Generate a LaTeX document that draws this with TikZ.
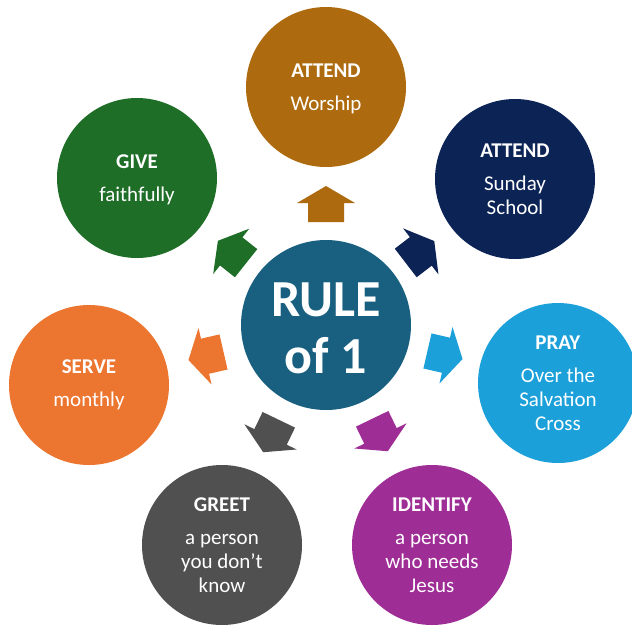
\documentclass[tikz,border=0pt]{standalone}
\usepackage{fontspec}
\setmainfont{Carlito}
\definecolor{cworship}{RGB}{174,106,14}
\definecolor{csunday}{RGB}{12,35,86}
\definecolor{cpray}{RGB}{28,160,218}
\definecolor{cidentify}{RGB}{158,45,150}
\definecolor{cgreet}{RGB}{80,80,80}
\definecolor{cserve}{RGB}{236,117,48}
\definecolor{cgive}{RGB}{30,110,40}
\definecolor{ccenter}{RGB}{25,95,128}
\begin{document}
\begin{tikzpicture}[x=1pt,y=-1pt,
  outer/.style={circle, minimum size=160pt, inner sep=0pt, fill=#1},
  lbl/.style={text=white, align=center, font=\fontsize{21}{24}\selectfont},
  arrowshape/.style={fill=#1}]
\useasboundingbox (0,0) rectangle (632,625);
\clip (0,0) rectangle (632,625);
% center
\node[circle, minimum size=170pt, inner sep=0pt, fill=ccenter] (c) at (326,325) {};
\node[text=white, align=center, font=\fontsize{52}{57}\selectfont\bfseries] (ct) at (326,328) {RULE\\of 1};
% outer circles
\node[outer=cworship] (w) at (326,87) {};
\node[outer=csunday] (s) at (515,179) {};
\node[outer=cpray] (p) at (558,383) {};
\node[outer=cidentify] (i) at (432,545) {};
\node[outer=cgreet] (g) at (222,545) {};
\node[outer=cserve] (v) at (89,385) {};
\node[outer=cgive] (f) at (137,178) {};
% labels
\node[lbl] (wt) at ([yshift=-1.5pt]w.center) {\textbf{ATTEND}\\[9pt]Worship};
\node[lbl] (st) at (s) {\textbf{ATTEND}\\[9pt]Sunday\\School};
\node[lbl] (pt) at (p) {\textbf{PRAY}\\[9pt]Over the\\Salvation\\Cross};
\node[lbl] (it) at (i) {\textbf{IDENTIFY}\\[9pt]a person\\who needs\\Jesus};
\node[lbl] (gt) at (g) {\textbf{GREET}\\[9pt]a person\\you don’t\\know};
\node[lbl] (vt) at (v) {\textbf{SERVE}\\[9pt]monthly};
\node[lbl] (ft) at ([yshift=-1.5pt]f.center) {\textbf{GIVE}\\[9pt]faithfully};
% arrows
\foreach \px/\py/\ang/\col in {326/204/90/cworship, 420/252/37.5/csunday, 445/355/-13/cpray, 380/435/-64.3/cidentify, 271/436/-115.7/cgreet, 206/356/-167/cserve, 232/252/141.5/cgive}{
  \fill[arrowshape=\col, shift={(\px,\py)}, rotate=\ang]
    (-18,-18) -- (1,-18) -- (1,-29) -- (18,0) -- (1,29) -- (1,18) -- (-18,18) -- cycle;
}
\end{tikzpicture}
\end{document}
